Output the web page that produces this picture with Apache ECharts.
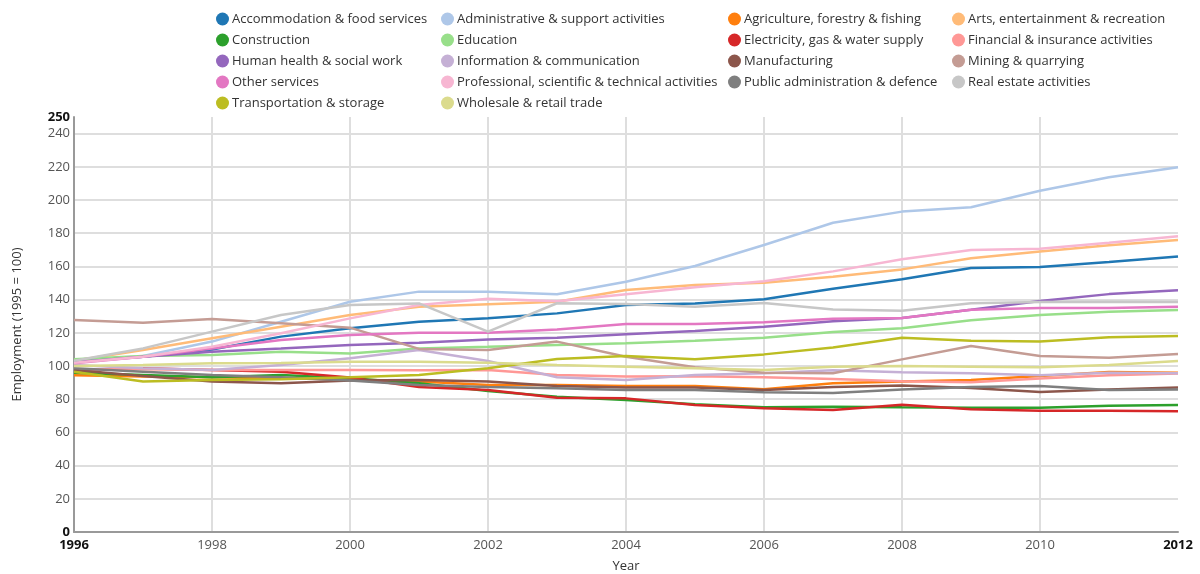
<!DOCTYPE html>
<html><head><meta charset="utf-8">
<script src="https://cdn.jsdelivr.net/npm/echarts@6/dist/echarts.min.js"></script>
<style>html,body{margin:0;padding:0;background:#fff}#c{width:1200px;height:574px}</style>
</head><body><div id="c"></div><script>
const years = [1996,1997,1998,1999,2000,2001,2002,2003,2004,2005,2006,2007,2008,2009,2010,2011,2012];
const xTicks = [1996,1998,2000,2002,2004,2006,2008,2010,2012];
const yTicks = [0,20,40,60,80,100,120,140,160,180,200,220,240,250];

const accommodation = [103.5,105.6,110,117.7,122.7,126.7,128.7,131.7,136.7,137.7,140.2,146.5,152.2,159,159.6,162.6,166];
const administrative = [102.6,106,114.7,126.7,138.7,144.8,144.8,143.2,150.8,160.2,172.9,186.3,193,195.6,205.6,213.7,219.7];
const agriculture = [94.4,93.6,93.2,92.6,92,90.6,88.6,88.6,88,88,86,89.6,90.6,91.6,94,96.4,96];
const arts = [103.2,109.6,116.7,123.7,130.7,135.7,137.2,138.7,145.8,148.8,150.2,153.8,158.2,164.9,169,172.7,175.9];
const construction = [96,94.6,93.2,94.6,92.6,89.6,85,81.5,79.5,76.9,75.1,75.5,75.1,74.9,74.9,76,76.5];
const education = [104,106,106.6,108.6,107.6,110.6,111.6,112.7,113.7,115.2,117,120.5,122.7,127.5,130.7,132.7,133.7];
const electricity = [97.6,98.6,97.6,96.6,93,87.4,85.5,80.9,80.5,76.5,74.5,73.5,76.7,73.9,73.1,73.1,72.7];
const financial = [98,98,97.6,97.6,97.6,97.4,97.6,94.6,93.6,93.8,93.2,92.2,90.8,90.2,92.5,94.5,95.5];
const health = [102.2,105.6,108.6,110.6,112.7,114,116,117,119.1,121.1,123.7,127,128.9,133.9,139.2,143.3,145.6];
const information = [100.6,98.6,97.6,100.6,104.6,109.6,103,93.2,91.6,94.6,95.6,97.4,96.2,95.6,94.4,96,95.7];
const manufacturing = [97.6,94,90.6,89.6,91.2,91.6,90.6,88,87.1,87,85.5,87.4,88.3,86.8,84.3,85.8,87.1];
const mining = [127.7,126.1,128.3,125.7,123.1,110.3,109.6,114.7,105.6,99.2,96,95.6,104,112,106,105,107.2];
const otherServices = [101.6,105.6,110.6,115.7,118.7,120.1,120.1,122,125.3,125.3,126.3,128.5,128.9,133.9,134.9,134.9,135.7];
const professional = [102,105.6,111.6,119.7,128.7,136.7,140.5,139,143.2,147.4,151,157,164.3,169.9,170.7,174.3,178.1];
const publicAdmin = [98.6,96.6,94.6,93.2,91.2,88.6,87.4,86.6,85.5,85.5,84.2,83.8,85.8,87.4,88,85.5,85.8];
const realEstate = [103.2,110.6,120.7,130.7,136.7,137.7,120.7,137.8,137.3,135.7,138,134,133.3,137.8,138.5,138.7,138.6];
const transport = [96.6,90.6,91.6,92,93.2,94.6,98.6,104.2,106,104,107,111.2,117,115.2,114.7,117.3,118.1];
const wholesale = [100,100.6,101.6,101.8,102.6,102.6,102,100.6,99.6,98.6,97.6,99.6,100,99.6,99.2,100.6,103];

const names = ['Accommodation & food services','Administrative & support activities','Agriculture, forestry & fishing','Arts, entertainment & recreation','Construction','Education','Electricity, gas & water supply','Financial & insurance activities','Human health & social work','Information & communication','Manufacturing','Mining & quarrying','Other services','Professional, scientific & technical activities','Public administration & defence','Real estate activities','Transportation & storage','Wholesale & retail trade'];
const values = [accommodation,administrative,agriculture,arts,construction,education,electricity,financial,health,information,manufacturing,mining,otherServices,professional,publicAdmin,realEstate,transport,wholesale];
const colors = ['#1f77b4','#aec7e8','#ff7f0e','#ffbb78','#2ca02c','#98df8a','#d62728','#ff9896','#9467bd','#c5b0d5','#8c564b','#c49c94','#e377c2','#f7b6d2','#7f7f7f','#c7c7c7','#bcbd22','#dbdb8d'];

const FONT = "'Open Sans', sans-serif";
const legendCols = [
  {left: 216, idx: [0,4,8,12,16]},
  {left: 441, idx: [1,5,9,13,17]},
  {left: 728, idx: [2,6,10,14]},
  {left: 952, idx: [3,7,11,15]}
];
const legends = legendCols.map(c => ({
  left: c.left, top: 11, padding: 0, orient: 'vertical', icon: 'circle',
  itemWidth: 13, itemHeight: 13, itemGap: 5,
  textStyle: {fontFamily: FONT, fontSize: 13, color: '#333', lineHeight: 16, padding: [0,0,0,-2]},
  data: c.idx.map(i => names[i]),
  selectedMode: false
}));

const ySplitColors = yTicks.map(v => v === 250 ? 'rgba(0,0,0,0)' : '#dedede');
const xSplitColors = xTicks.map(v => v === 2012 ? 'rgba(0,0,0,0)' : '#dedede');

const chart = echarts.init(document.getElementById('c'), null, {renderer: 'canvas'});
chart.setOption({
  animation: false,
  backgroundColor: '#fff',
  color: colors,
  legend: legends,
  grid: {left: 74, right: 22, top: 117, bottom: 42, containLabel: false, outerBoundsMode: 'none'},
  xAxis: {
    type: 'value', min: 1996, max: 2012, interval: 2,
    name: 'Year', nameLocation: 'middle', nameGap: 28,
    nameTextStyle: {fontFamily: FONT, fontSize: 13, color: '#333'},
    axisLine: {show: true, lineStyle: {color: '#999', width: 2}},
    axisTick: {show: false},
    splitLine: {show: true, lineStyle: {color: xSplitColors, width: 2}},
    axisLabel: {
      fontFamily: FONT, fontSize: 13, color: '#555', margin: 7,
      formatter: v => (v === 1996 || v === 2012) ? '{b|' + v + '}' : String(v),
      rich: {b: {fontFamily: FONT, fontSize: 13, fontWeight: 'bold', color: '#111'}}
    }
  },
  yAxis: {
    type: 'value', min: 0, max: 250, interval: 20,
    name: 'Employment (1995 = 100)', nameLocation: 'middle', nameGap: 50,
    nameTextStyle: {fontFamily: FONT, fontSize: 13, color: '#333'},
    axisLine: {show: true, lineStyle: {color: '#999', width: 2}},
    axisTick: {show: false},
    splitLine: {show: true, lineStyle: {color: ySplitColors, width: 2}},
    axisLabel: {
      fontFamily: FONT, fontSize: 13, color: '#555', margin: 4,
      formatter: v => (v === 0 || v === 250) ? '{b|' + v + '}' : String(v),
      rich: {b: {fontFamily: FONT, fontSize: 13, fontWeight: 'bold', color: '#111'}}
    }
  },
  series: names.map((n, i) => ({
    name: n, type: 'line', showSymbol: false, symbol: 'none',
    lineStyle: {width: 2.5, color: colors[i]},
    itemStyle: {color: colors[i]},
    emphasis: {disabled: true},
    data: years.map((y, j) => [y, values[i][j]])
  }))
});
</script></body></html>
